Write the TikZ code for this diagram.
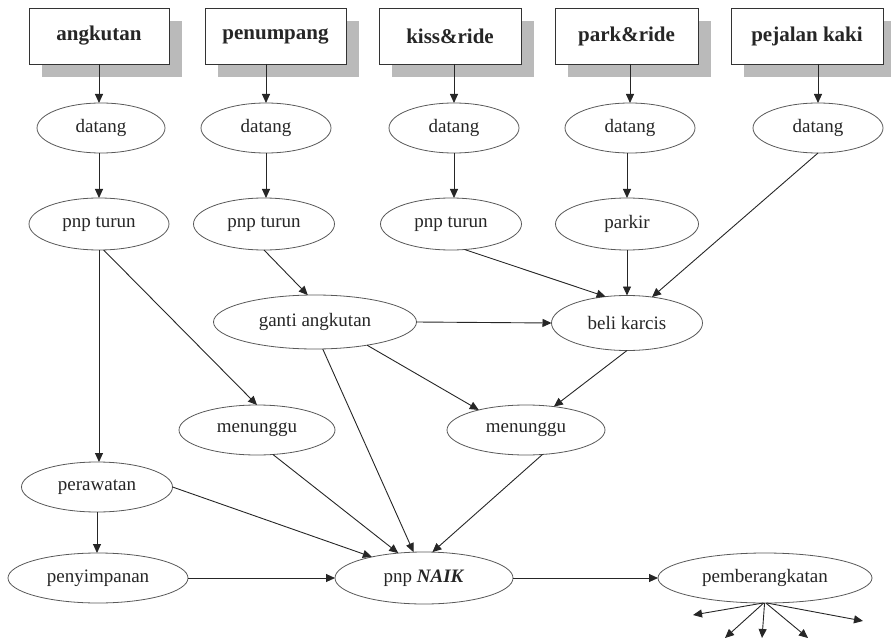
\documentclass[tikz,border=0pt]{standalone}
\usepackage{fontspec}
\setmainfont{Liberation Serif}
\usetikzlibrary{shapes.geometric,arrows.meta,shadows}
\begin{document}
\begin{tikzpicture}[x=1pt,y=-1pt]
\tikzset{
  actor/.style={draw=black!80, line width=0.9pt, fill=white, minimum height=56pt,
    inner sep=0pt, outer sep=0pt, text=black!85,
    font=\fontsize{21}{24}\selectfont\bfseries,
    drop shadow={shadow xshift=13pt, shadow yshift=-13pt, fill=black!27, opacity=1}},
  act/.style={ellipse, draw=black!65, line width=0.8pt, fill=white, inner sep=0pt,
    outer sep=0pt, minimum height=50pt, text=black!85,
    font=\fontsize{19}{22}\selectfont},
  flow/.style={draw=black!85, line width=0.9pt, -{Triangle[length=9pt,width=8pt]}},
}
\useasboundingbox (0,0) rectangle (891,639);

% actors
\node[actor, minimum width=140pt] (b1) at (99,36)    {angkutan};
\node[actor, minimum width=141pt] (b2) at (275.5,36) {penumpang};
\node[actor, minimum width=142pt] (b3) at (450,36)   {kiss\&ride};
\node[actor, minimum width=143pt] (b4) at (626.5,36) {park\&ride};
\node[actor, minimum width=152pt] (b5) at (807,36)   {pejalan kaki};

% arrival
\node[act, minimum width=128pt] (d1) at (101,128) {datang};
\node[act, minimum width=130pt] (d2) at (266,128) {datang};
\node[act, minimum width=130pt] (d3) at (454,128) {datang};
\node[act, minimum width=130pt] (d4) at (630,128) {datang};
\node[act, minimum width=130pt] (d5) at (818,128) {datang};

% drop-off
\node[act, minimum width=140pt, minimum height=52pt] (p1) at (99,224)  {pnp turun};
\node[act, minimum width=141pt, minimum height=52pt] (p2) at (264,224) {pnp turun};
\node[act, minimum width=141pt, minimum height=52pt] (p3) at (451,224) {pnp turun};
\node[act, minimum width=143pt, minimum height=52pt] (p4) at (627,224) {parkir};

% transfer and ticketing
\node[act, minimum width=203pt, minimum height=54pt] (g) at (315,322) {ganti angkutan};
\node[act, minimum width=151pt, minimum height=55pt] (k) at (627,323) {beli karcis};

% waiting
\node[act, minimum width=156pt] (m1) at (257,430) {menunggu};
\node[act, minimum width=158pt] (m2) at (526,430) {menunggu};

% maintenance
\node[act, minimum width=151pt] (per)  at (97,487) {perawatan};
\node[act, minimum width=180pt] (peny) at (98,578) {penyimpanan};

% boarding and departure
\node[act, minimum width=178pt, minimum height=52pt] (naik) at (424,578) {pnp \textbf{\textit{NAIK}}};
\node[act, minimum width=214pt] (pem) at (765,578) {pemberangkatan};

% departure fan ends
\coordinate (f1) at (693,615);
\coordinate (f2) at (725,638);
\coordinate (f3) at (762,638);
\coordinate (f4) at (808,638);
\coordinate (f5) at (863,621);

% columns
\draw[flow] (b1.south) -- (b1.south |- d1.north);
\draw[flow] (d1.south -| p1) -- (p1.north);
\draw[flow] (b2.south -| d2) -- (d2.north);
\draw[flow] (d2.south) -- (d2.south |- p2.north);
\draw[flow] (b3.south -| d3) -- (d3.north);
\draw[flow] (d3.south) -- (d3.south |- p3.north);
\draw[flow] (b4.south -| d4) -- (d4.north);
\draw[flow] (d4.south -| p4) -- (p4.north);
\draw[flow] (b5.south -| d5) -- (d5.north);

% middle network
\draw[flow] (d5.south) -- (k.46);
\draw[flow] (p1.south) -- (p1.south |- per.north);
\draw[flow] (p1.-80) -- (m1.north);
\draw[flow] (p2.south) -- (g.105);
\draw[flow] (p3.-62) -- (k.129);
\draw[flow] (p4.south) -- (k.north);
\draw[flow] (g.east) -- (k.west);
\draw[flow] (g.-24) -- (m2.157);
\draw[flow] (g.-74) -- (naik.112);
\draw[flow] (k.south) -- (m2.40);
\draw[flow] (m1.-57) -- (naik.136);
\draw[flow] (m2.-56) -- (naik.72);
\draw[flow] (per.east) -- (naik.158);
\draw[flow] (per.south) -- (per.south |- peny.north);
\draw[flow] (peny.east) -- (naik.west);
\draw[flow] (naik.east) -- (pem.west);

% departure fan
\draw[flow] (pem.-94) -- (f1);
\draw[flow] (pem.-93) -- (f2);
\draw[flow] (pem.-91) -- (f3);
\draw[flow] (pem.-88) -- (f4);
\draw[flow] (pem.-86) -- (f5);
\end{tikzpicture}
\end{document}
